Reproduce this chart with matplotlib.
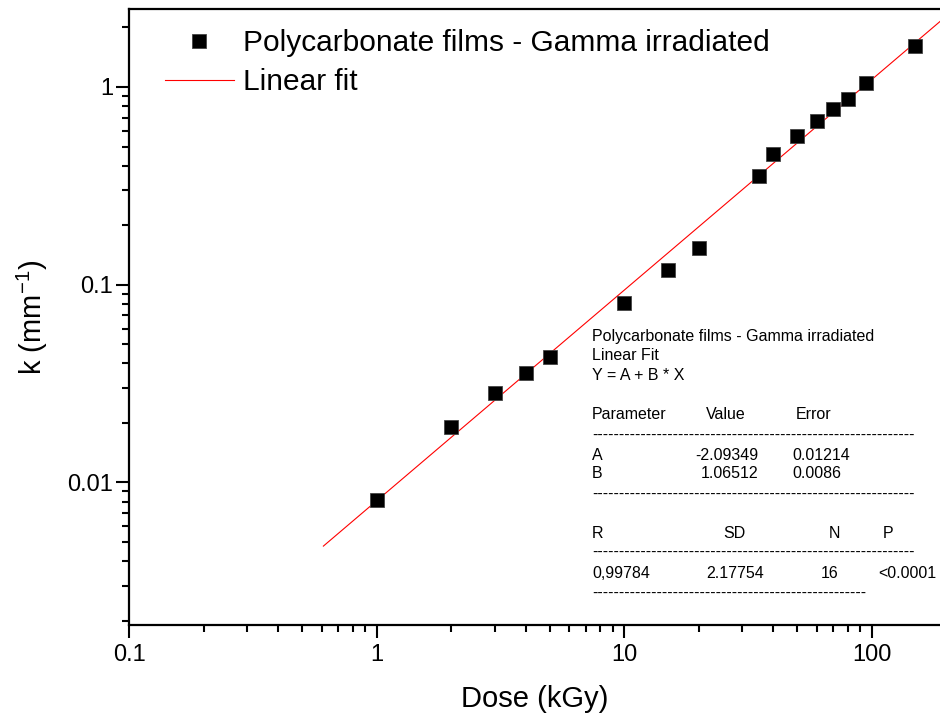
import numpy as np
import matplotlib.pyplot as plt

plt.rcParams['font.family'] = ['Liberation Sans', 'DejaVu Sans']
plt.rcParams['mathtext.fontset'] = 'custom'
plt.rcParams['mathtext.rm'] = 'Liberation Sans'
plt.rcParams['mathtext.default'] = 'regular'

# dose (kGy) and k (mm^-1)
dose = [1, 2, 3, 4, 5, 10, 15, 20, 35, 40, 50, 60, 70, 80, 95, 150]
k = [0.00815, 0.0191, 0.0284, 0.0358, 0.0431, 0.081, 0.119, 0.154,
     0.356, 0.457, 0.566, 0.674, 0.775, 0.869, 1.05, 1.61]

# linear fit of log10(k) vs log10(dose)
A, B = -2.09349, 1.06512
fit_x = np.logspace(np.log10(0.61), np.log10(250), 50)
fit_y = 10 ** (A + B * np.log10(fit_x))

W, H = 940, 722
fig = plt.figure(figsize=(W / 100, H / 100), dpi=100)
ax = fig.add_axes([129 / W, 97 / H, 811 / W, 616 / H])

ax.plot(dose, k, 's', color='black', markersize=9.6,
        markeredgecolor='#444444', markeredgewidth=0.6,
        label='Polycarbonate films - Gamma irradiated', zorder=3)
ax.plot(fit_x, fit_y, color='red', lw=0.8, label='Linear fit', zorder=2)

ax.set_xscale('log')
ax.set_yscale('log')
ax.set_xlim(0.1, 189)
ax.set_ylim(0.0019, 2.48)

ax.set_xticks([0.1, 1, 10, 100])
ax.set_xticklabels(['0.1', '1', '10', '100'])
ax.set_yticks([0.01, 0.1, 1])
ax.set_yticklabels(['0.01', '0.1', '1'])

for s in ['left', 'bottom', 'top']:
    ax.spines[s].set_linewidth(1.6)
ax.spines['right'].set_visible(False)
ax.tick_params(which='major', direction='out', length=9.5, width=1.5,
               labelsize=17, pad=4)
ax.tick_params(which='minor', direction='out', length=5, width=1.5)
ax.tick_params(axis='y', which='major', pad=2)

ax.set_xlabel('Dose (kGy)', fontsize=21, labelpad=14)
ax.set_ylabel('k (mm$^{-1}$)', fontsize=21, labelpad=12)

ax.legend(loc='upper left', bbox_to_anchor=(165 / W, 1 - 29 / H),
          bbox_transform=fig.transFigure, frameon=False, fontsize=21.5,
          borderpad=0, borderaxespad=0, handlelength=2.3,
          handletextpad=0.3, labelspacing=0.38, markerscale=1.0)

# fit result box
def put(x, y, s, ha='left'):
    fig.text(x / W, 1 - y / H, s, fontsize=11.5, ha=ha, va='center')

put(592, 337, 'Polycarbonate films - Gamma irradiated')
put(592, 356, 'Linear Fit')
put(592, 375, 'Y = A + B * X')
put(592, 415, 'Parameter')
put(706, 415, 'Value')
put(796, 415, 'Error')
put(592, 435, '-' * 60)
put(592, 455, 'A')
put(758, 455, '-2.09349', ha='right')
put(792, 455, '0.01214')
put(592, 474, 'B')
put(758, 474, '1.06512', ha='right')
put(792, 474, '0.0086')
put(592, 494, '-' * 60)
put(592, 533, 'R')
put(723, 533, 'SD')
put(829, 533, 'N')
put(883, 533, 'P')
put(592, 552, '-' * 60)
put(592, 573, '0,99784')
put(706, 573, '2.17754')
put(821, 573, '16')
put(878, 573, '<0.0001')
put(592, 593, '-' * 51)

fig.savefig('out.png', dpi=100)
